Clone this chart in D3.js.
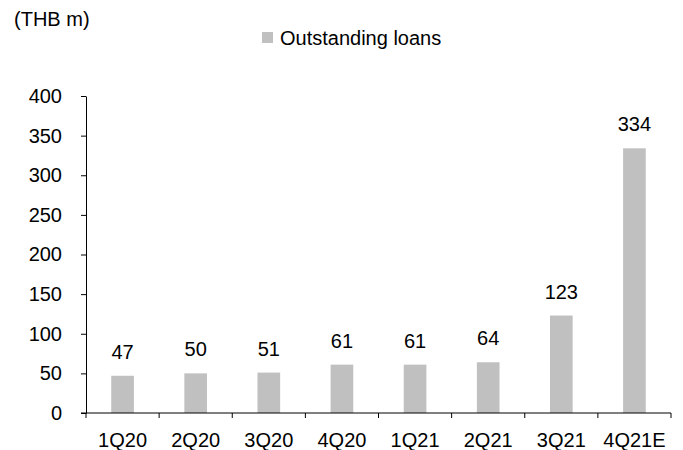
<!DOCTYPE html>
<html><head><meta charset="utf-8">
<script src="https://cdn.jsdelivr.net/npm/d3@7"></script>
<style>body{margin:0;background:#fff}svg{display:block}text{font-family:"Liberation Sans",Arial,sans-serif;fill:#000}</style>
</head><body>
<svg id="c" width="683" height="450"></svg>
<script>
const categories = ["1Q20","2Q20","3Q20","4Q20","1Q21","2Q21","3Q21","4Q21E"];
const loans = [47,50,51,61,61,64,123,334];
const yTicks = [0,50,100,150,200,250,300,350,400];
const seriesName = "Outstanding loans";
const unitLabel = "(THB m)";

const FS = 20;
const svg = d3.select("#c");
const x = d3.scaleBand().domain(categories).range([86,671]).paddingInner(0.69).paddingOuter(0.345);
const xb = d3.scaleBand().domain(categories).range([86,671]);
const y = d3.scaleLinear().domain([0,400]).range([413,96]);
const color = "#c0c0c0";

svg.selectAll("rect.bar").data(loans).join("rect").attr("class","bar")
  .attr("x",(d,i)=>x(categories[i])).attr("width",x.bandwidth())
  .attr("y",d=>y(d)).attr("height",d=>y(0)-y(d)).attr("fill",color);

svg.selectAll("text.val").data(loans).join("text").attr("class","val")
  .attr("x",(d,i)=>x(categories[i])+x.bandwidth()/2).attr("y",d=>y(d)-17)
  .attr("text-anchor","middle").attr("font-size",FS).text(d=>d);

// y axis
const ya = svg.append("g").attr("transform","translate(86,0)")
  .call(d3.axisLeft(y).tickValues(yTicks).tickSize(5).tickPadding(19).tickSizeOuter(0));
ya.select(".domain").attr("stroke","#000");
ya.selectAll("text").attr("font-size",FS).attr("font-family","Liberation Sans, Arial, sans-serif");

// x axis line with boundary ticks
const xg = svg.append("g");
xg.append("line").attr("x1",81).attr("x2",671).attr("y1",y(0)).attr("y2",y(0)).attr("stroke","#000");
const bounds = categories.map(c=>xb(c)).concat([xb(categories[categories.length-1])+xb.bandwidth()]);
xg.selectAll("line.t").data(bounds).join("line").attr("class","t")
  .attr("x1",d=>d).attr("x2",d=>d).attr("y1",y(0)).attr("y2",y(0)+5).attr("stroke","#000");
xg.selectAll("text").data(categories).join("text")
  .attr("x",d=>xb(d)+xb.bandwidth()/2).attr("y",447).attr("text-anchor","middle")
  .attr("font-size",FS).text(d=>d);

// legend
svg.append("rect").attr("x",262).attr("y",32).attr("width",11).attr("height",11).attr("fill",color);
svg.append("text").attr("x",280).attr("y",45).attr("font-size",FS).text(seriesName);
svg.append("text").attr("x",14).attr("y",26).attr("font-size",FS).text(unitLabel);
</script>
</body></html>
